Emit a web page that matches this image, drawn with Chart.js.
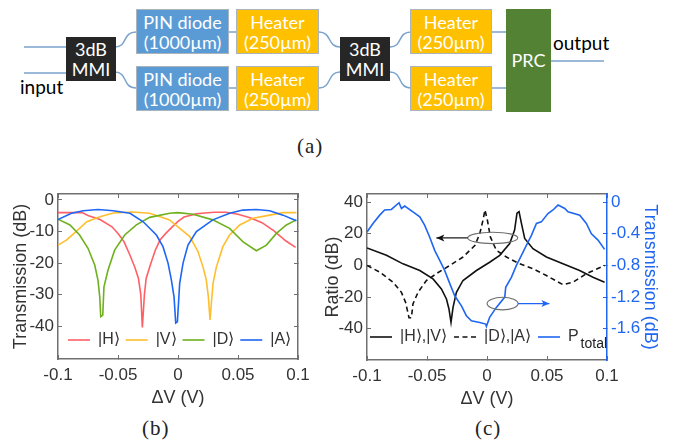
<!DOCTYPE html>
<html>
<head>
<meta charset="utf-8">
<script src="https://cdn.jsdelivr.net/npm/chart.js@4"></script>
<style>
  html, body { margin: 0; padding: 0; background: #fff; }
  #page { position: relative; width: 673px; height: 441px; overflow: hidden; }
  canvas { position: absolute; }
  svg { position: absolute; left: 0; top: 0; }
  .box { position: absolute; box-sizing: border-box; color: #fff; text-align: center; font: 18px/20px Lato, sans-serif; padding-top: 2px; border: 1px solid #aab4bd; }
  .pin { left: 136px; width: 93px; background: #5b9bd5; }
  .heat { background: #ffc000; }
  .mmi { width: 50px; top: 37px; height: 44px; background: #262626; border: 0; line-height: 20px; }
  .lab { position: absolute; color: #000; font: 19px Lato, sans-serif; }
  .cap { position: absolute; color: #222; font: 21px "Liberation Serif", serif; letter-spacing: 1px; }
</style>
</head>
<body>
<div id="page">
  <svg width="673" height="130" fill="none" stroke="#7ba3cc" stroke-width="1.5">
    <path d="M24 47H66M24 73H66"/>
    <path d="M115 47C128 47 122 32 136 32M115 72C128 72 122 88 136 88"/>
    <path d="M228 32H237M228 88H237"/>
    <path d="M319 32C332 32 327 47 340 47M319 88C332 88 327 72 340 72"/>
    <path d="M390 47C403 47 397 32 411 32M390 72C403 72 397 88 411 88"/>
    <path d="M491 32H507M491 88H507M551 61H604"/>
  </svg>
  <div class="box mmi" style="left:66px">3dB<br>MMI</div>
  <div class="box pin" style="top:9px;height:45px">PIN diode<br>(1000µm)</div>
  <div class="box pin" style="top:66px;height:45px">PIN diode<br>(1000µm)</div>
  <div class="box heat" style="left:236px;width:83px;top:9px;height:45px">Heater<br>(250µm)</div>
  <div class="box heat" style="left:236px;width:83px;top:66px;height:45px">Heater<br>(250µm)</div>
  <div class="box mmi" style="left:340px">3dB<br>MMI</div>
  <div class="box heat" style="left:410px;width:82px;top:9px;height:45px">Heater<br>(250µm)</div>
  <div class="box heat" style="left:410px;width:82px;top:66px;height:45px">Heater<br>(250µm)</div>
  <div class="box" style="left:506px;width:45px;top:9px;height:103px;background:#548235;border:0;line-height:103px;padding:0">PRC</div>
  <div class="lab" style="left:20px;top:75px">input</div>
  <div class="lab" style="left:553px;top:31px">output</div>
  <div class="cap" style="left:297px;top:134px">(a)</div>
  <div class="cap" style="left:142px;top:416px">(b)</div>
  <div class="cap" style="left:475px;top:416px">(c)</div>
  <canvas id="chartB" width="320" height="261" style="left:0;top:180px"></canvas>
  <canvas id="chartC" width="353" height="263" style="left:320px;top:180px"></canvas>
</div>
<script>
const xTicks = [-0.1, -0.05, 0, 0.05, 0.1];
const yTicksB = [0, -10, -20, -30, -40];
const yTicksC = [40, 20, 0, -20, -40];
const yTicksPower = [0, -0.4, -0.8, -1.2, -1.6];

// panel (b) - transmission per polarisation
const hX = [-0.1, -0.09, -0.08, -0.075, -0.065, -0.055, -0.05, -0.045, -0.04, -0.036, -0.033, -0.031, -0.0297, -0.028, -0.0265, -0.023, -0.019, -0.015, -0.01, -0.005, 0, 0.005, 0.01, 0.015, 0.02, 0.03, 0.04, 0.05, 0.06, 0.07, 0.08, 0.09, 0.098];
const hY = [-4, -4, -4, -4.9, -6.2, -8.5, -10.6, -13.2, -17.5, -21.3, -24.8, -30, -40.4, -30, -24.8, -20.5, -16, -12.7, -10.5, -8.6, -6.8, -5.4, -4.9, -4.4, -4.2, -3.9, -3.9, -4.5, -5.6, -7.2, -9.8, -13, -15];
const vX = [-0.1, -0.093, -0.085, -0.076, -0.065, -0.054, -0.038, -0.0236, -0.007, 0, 0.0098, 0.0167, 0.0208, 0.0236, 0.0253, 0.0267, 0.0278, 0.0292, 0.032, 0.0374, 0.043, 0.0514, 0.0625, 0.0764, 0.0875, 0.0986];
const vY = [-14.3, -12.7, -10, -6.9, -5.3, -4.1, -3.8, -4.2, -6.3, -8.5, -11.6, -16.4, -21.2, -25.4, -30.7, -38, -32.8, -26.4, -21.2, -14.8, -11.1, -7.9, -5.8, -4.8, -4, -4];
const dX = [-0.1, -0.09, -0.082, -0.075, -0.0694, -0.0667, -0.0652, -0.0644, -0.0627, -0.0617, -0.0583, -0.0528, -0.0444, -0.0347, -0.0236, -0.007, 0, 0.0125, 0.029, 0.043, 0.054, 0.0653, 0.0737, 0.082, 0.0903, 0.0986];
const dY = [-6.1, -7.9, -11.1, -15.3, -20.6, -25.4, -30.7, -37, -36.5, -27.5, -22.2, -15.9, -11.1, -7.9, -5.5, -4.2, -4, -4.5, -6.3, -9, -13.2, -16.1, -14.3, -10.6, -7.9, -6.3];
const aX = [-0.1, -0.0888, -0.079, -0.0667, -0.054, -0.04, -0.029, -0.018, -0.0125, -0.0083, -0.0055, -0.0033, -0.0019, -0.0005, 0.0014, 0.0042, 0.0083, 0.0153, 0.029, 0.043, 0.054, 0.0653, 0.0764, 0.0875, 0.0986];
const aY = [-6.2, -4.2, -3.4, -3, -3.4, -4.2, -6.9, -11.1, -14.8, -20, -25.4, -30.7, -39, -38.6, -26.4, -20, -14.3, -10, -6.3, -4.2, -3.2, -3, -3.4, -4.8, -6.6];

// panel (c) - polarisation ratios and total power
const hvX = [-0.1, -0.0838, -0.07, -0.056, -0.045, -0.038, -0.0338, -0.0317, -0.03, -0.0283, -0.0255, -0.02, -0.0088, 0.0022, 0.0106, 0.0189, 0.023, 0.025, 0.0267, 0.0287, 0.0314, 0.0383, 0.0495, 0.0633, 0.0772, 0.0883, 0.098];
const hvY = [11, 6.4, 1, -3.2, -8.5, -14.8, -21.2, -27.5, -36, -26.5, -17, -9.5, -3.2, 2, 6.4, 13.8, 22.3, 33, 34, 26.5, 17, 10.6, 5.3, 1, -3.2, -7.4, -10.6];
const daX = [-0.1, -0.0894, -0.0783, -0.0713, -0.0678, -0.065, -0.063, -0.0617, -0.0575, -0.0505, -0.0422, -0.031, -0.02, -0.01, -0.006, -0.0033, -0.0017, 0.0003, 0.0028, 0.0078, 0.0162, 0.0258, 0.0383, 0.0495, 0.0633, 0.0717, 0.0828, 0.098];
const daY = [0, -4.2, -10.6, -17, -23.4, -33, -33, -24.3, -17, -9.5, -5.2, 0, 5.3, 12.7, 20.2, 28.7, 35, 28.7, 18, 9.5, 5.3, 1.5, -2.1, -6.4, -12.1, -10.6, -5.2, 0];
const powerX = [-0.1, -0.095, -0.0894, -0.0853, -0.0797, -0.0733, -0.0713, -0.0686, -0.0617, -0.056, -0.052, -0.0478, -0.0436, -0.0394, -0.0353, -0.031, -0.027, -0.0213, -0.0172, -0.013, -0.0061, -0.0011, -0.0005, 0.0022, 0.0078, 0.0148, 0.0156, 0.0203, 0.0245, 0.0287, 0.0328, 0.037, 0.0412, 0.0453, 0.0508, 0.055, 0.0592, 0.0648, 0.0675, 0.0773, 0.0828, 0.087, 0.0925, 0.098];
const powerY = [-0.377, -0.27, -0.165, -0.1, -0.093, -0.008, -0.08, -0.05, -0.123, -0.186, -0.292, -0.44, -0.61, -0.737, -0.863, -1.03, -1.18, -1.31, -1.435, -1.5, -1.52, -1.54, -1.57, -1.456, -1.33, -1.2, -1.076, -0.95, -0.8, -0.673, -0.546, -0.42, -0.27, -0.25, -0.144, -0.1, -0.038, -0.08, -0.123, -0.165, -0.27, -0.4, -0.48, -0.597];

const sans = '"Liberation Sans", Arial, sans-serif';
const boxGrey = '#707070';
const powerBlue = '#1f66f2';
const toPoints = (xs, ys) => xs.map((x, i) => ({ x: x, y: ys[i] }));
const setTicks = (values) => (s) => { s.ticks = values.map((v) => ({ value: v })); };

function axis(position, min, max, ticks, colour, size) {
    const isX = position === 'top' || position === 'bottom';
    return {
        type: 'linear',
        position: position,
        min: min,
        max: max,
        afterBuildTicks: setTicks(ticks),
        // fixed axis size, and no extra room for labels that stick out
        afterFit(s) {
            s[isX ? 'height' : 'width'] = size;
            s.paddingTop = s.paddingBottom = s.paddingLeft = s.paddingRight = 0;
        },
        border: { color: colour, width: 1.5 },
        grid: { drawOnChartArea: false, color: colour, tickLength: -4, lineWidth: 1 },
        ticks: { display: false }
    };
}

function withLabels(scale, colour, padding) {
    scale.ticks = {
        display: true,
        autoSkip: false,
        maxRotation: 0,
        padding: padding,
        color: colour,
        font: { family: sans, size: 17 },
        callback: (v) => String(v)
    };
    return scale;
}

function withTitle(scale, text, colour, padding) {
    scale.title = { display: true, text: text, color: colour, padding: padding, font: { family: sans, size: 18 } };
    return scale;
}

// moves the library legend from under the x axis into the plot
function legendInside(left, top) {
    return {
        id: 'legendInside',
        afterLayout(chart) {
            chart.legend.left = left;
            chart.legend.top = top;
        }
    };
}

function legendOptions(padding) {
    return {
        position: 'bottom',
        align: 'start',
        labels: {
            usePointStyle: true,
            pointStyle: 'line',
            pointStyleWidth: 22,
            padding: padding,
            color: '#333',
            font: { family: sans, size: 16 },
            sort: (a, b) => a.datasetIndex - b.datasetIndex,
            // with usePointStyle the items lose the dash and width of the line
            generateLabels(chart) {
                const items = Chart.defaults.plugins.legend.labels.generateLabels(chart);
                items.forEach((item) => {
                    const ds = chart.data.datasets[item.datasetIndex];
                    item.lineDash = ds.borderDash;
                    item.lineWidth = ds.borderWidth;
                });
                return items;
            }
        }
    };
}

const line = (label, xs, ys, colour, extra) => Object.assign({
    label: label,
    data: toPoints(xs, ys),
    borderColor: colour,
    backgroundColor: colour,
    borderWidth: 1.6,
    pointRadius: 0,
    tension: 0
}, extra);

new Chart(document.getElementById('chartB'), {
    type: 'line',
    data: {
        datasets: [
            line('|H⟩', hX, hY, '#ff5f66', { order: 3 }),
            line('|V⟩', vX, vY, '#ffbe2e', { order: 2 }),
            line('|D⟩', dX, dY, '#6fb01f', { order: 1 }),
            line('|A⟩', aX, aY, '#1e66f5', { order: 0 })
        ]
    },
    options: {
        responsive: false,
        animation: false,
        layout: { padding: { top: 14 } },
        plugins: { legend: legendOptions(6), tooltip: { enabled: false } },
        scales: {
            x: withTitle(withLabels(axis('bottom', -0.1, 0.1, xTicks, boxGrey, 50), '#333', 10), 'ΔV (V)', '#333', { top: 4, bottom: 0 }),
            xTop: axis('top', -0.1, 0.1, xTicks, boxGrey, 0),
            y: withTitle(withLabels(axis('left', -50.4, 1.9, yTicksB, boxGrey, 58), '#333', 8), 'Transmission (dB)', '#333', { top: 10, bottom: 0 }),
            yRight: axis('right', -50.4, 1.9, yTicksB, boxGrey, 22)
        }
    },
    plugins: [legendInside(62, 146)]
});

// ellipses, arrows and the legend subscript, placed through the scales
const notes = {
    id: 'notes',
    afterDatasetsDraw(chart) {
        const ctx = chart.ctx;
        const px = (v) => chart.scales.x.getPixelForValue(v);
        const py = (v) => chart.scales.y.getPixelForValue(v);
        const ring = (x, y, rx, ry) => {
            ctx.strokeStyle = '#6e6e6e';
            ctx.lineWidth = 1.1;
            ctx.beginPath();
            ctx.ellipse(px(x), py(y), rx, ry, 0, 0, Math.PI * 2);
            ctx.stroke();
        };
        const arrow = (x1, x2, y, colour) => {
            const dir = Math.sign(px(x2) - px(x1));
            ctx.strokeStyle = colour;
            ctx.fillStyle = colour;
            ctx.lineWidth = 1.2;
            ctx.beginPath();
            ctx.moveTo(px(x1), py(y));
            ctx.lineTo(px(x2), py(y));
            ctx.stroke();
            ctx.beginPath();
            ctx.moveTo(px(x2), py(y));
            ctx.lineTo(px(x2) - dir * 8, py(y) - 3.5);
            ctx.lineTo(px(x2) - dir * 6, py(y));
            ctx.lineTo(px(x2) - dir * 8, py(y) + 3.5);
            ctx.closePath();
            ctx.fill();
        };
        ctx.save();
        ring(0.0048, 17.4, 25, 5.7);
        ring(0.013, -24.1, 15.5, 6.3);
        arrow(-0.016, -0.0422, 17.4, '#111');
        arrow(0.0258, 0.052, -24.1, powerBlue);
        ctx.fillStyle = '#222';
        ctx.font = '14px ' + sans;
        ctx.textBaseline = 'middle';
        ctx.fillText('total', px(0.078), py(-49.5));
        ctx.restore();
    }
};

new Chart(document.getElementById('chartC'), {
    type: 'line',
    data: {
        datasets: [
            line('|H⟩,|V⟩', hvX, hvY, '#111', { order: 2, yAxisID: 'y' }),
            line('|D⟩,|A⟩', daX, daY, '#111', { order: 1, yAxisID: 'y', borderDash: [5, 3.5] }),
            line('P', powerX, powerY, powerBlue, { order: 0, yAxisID: 'yPower' })
        ]
    },
    options: {
        responsive: false,
        animation: false,
        layout: { padding: { top: 14 } },
        plugins: { legend: legendOptions(7), tooltip: { enabled: false } },
        scales: {
            x: withTitle(withLabels(axis('bottom', -0.1, 0.1, xTicks, boxGrey, 50), '#333', 10), 'ΔV (V)', '#333', { top: 4, bottom: 0 }),
            xTop: axis('top', -0.1, 0.1, xTicks, boxGrey, 0),
            y: withTitle(withLabels(axis('left', -59.7, 45.1, yTicksC, boxGrey, 47), '#333', 8), 'Ratio (dB)', '#333', { top: 2, bottom: 0 }),
            yPower: withTitle(withLabels(axis('right', -1.994, 0.102, yTicksPower, powerBlue, 66), powerBlue, 8), 'Transmission (dB)', powerBlue, { top: 12, bottom: 0 })
        }
    },
    plugins: [legendInside(43, 142), notes]
});
</script>
</body>
</html>
